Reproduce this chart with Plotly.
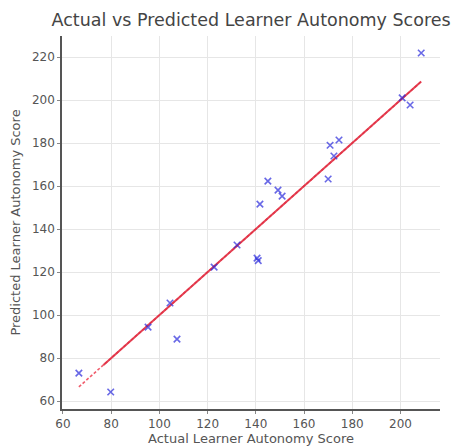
import plotly.graph_objects as go

actual = [66.6, 79.8, 95.3, 104.4, 107.3, 122.7, 132.2, 140.5, 141.0, 141.7,
          145.0, 149.2, 150.9, 170.0, 170.8, 172.4, 174.5, 200.7, 204.0, 208.6]
predicted = [73.0, 64.2, 94.4, 105.6, 88.8, 122.3, 132.6, 126.5, 125.3, 151.6,
             162.3, 158.1, 155.3, 163.3, 179.0, 174.0, 181.4, 201.0, 197.7, 221.9]
x_ticks = [60, 80, 100, 120, 140, 160, 180, 200]
y_ticks = [60, 80, 100, 120, 140, 160, 180, 200, 220]

lo, hi = min(actual), max(actual)
second = sorted(actual)[1]

fig = go.Figure()
fig.add_trace(go.Scatter(x=[lo, hi], y=[lo, hi], mode="lines",
                         line=dict(color="rgba(235,40,60,0.75)", width=1.6, dash="3px,2px"),
                         showlegend=False, hoverinfo="skip"))
fig.add_trace(go.Scatter(x=[second - 3, hi], y=[second - 3, hi], mode="lines",
                         line=dict(color="rgba(225,45,65,0.9)", width=2),
                         showlegend=False, hoverinfo="skip"))
fig.add_trace(go.Scatter(x=actual, y=predicted, mode="markers",
                         marker=dict(symbol="x-thin", size=6.5,
                                     line=dict(color="rgba(40,40,220,0.7)", width=1.6)),
                         showlegend=False))

axis_common = dict(showgrid=True, gridcolor="#e6e6e6", gridwidth=1, zeroline=False,
                   showline=True, linecolor="#555555", linewidth=1.5,
                   ticks="outside", ticklen=3, tickcolor="#888888", automargin=False,
                   tickfont=dict(family="DejaVu Sans", size=12, color="#555555"),
                   title_font=dict(family="DejaVu Sans", size=13, color="#555555"))

fig.update_xaxes(range=[59.6, 216.4], tickvals=x_ticks,
                 title_text="Actual Learner Autonomy Score", title_standoff=1,
                 **axis_common)
fig.update_yaxes(range=[56.3, 229.8], tickvals=y_ticks,
                 title_text="Predicted Learner Autonomy Score", title_standoff=8,
                 **axis_common)

fig.update_layout(
    width=451, height=438,
    margin=dict(l=54, r=19, t=28, b=37),
    paper_bgcolor="white", plot_bgcolor="white",
    title=dict(text="Actual vs Predicted Learner Autonomy Scores",
               x=0.539, xanchor="center", y=0.973, yanchor="middle",
               font=dict(family="DejaVu Sans", size=17.5, color="#444444")),
)

fig.write_html("out.html")
